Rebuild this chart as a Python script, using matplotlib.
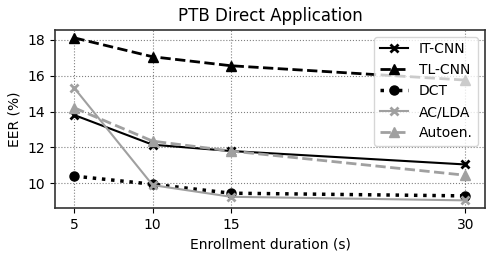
import matplotlib
matplotlib.use("Agg")
import matplotlib.pyplot as plt

durations = [5, 10, 15, 30]
it_cnn = [13.8, 12.15, 11.8, 11.05]
tl_cnn = [18.1, 17.05, 16.55, 15.75]
dct = [10.4, 9.95, 9.45, 9.3]
ac_lda = [15.3, 9.9, 9.25, 9.05]
autoen = [14.2, 12.35, 11.8, 10.45]

plt.rcParams["font.size"] = 10
fig, ax = plt.subplots(figsize=(4.99, 2.59), dpi=100)

gray = "#a0a0a0"
ax.plot(durations, it_cnn, color="black", ls="-", marker="x", lw=1.5, ms=5.5, mew=2, label="IT-CNN")
ax.plot(durations, tl_cnn, color="black", ls="--", marker="^", lw=2, ms=6.5, label="TL-CNN")
ax.plot(durations, dct, color="black", ls=":", marker="o", lw=2.5, ms=6.5, label="DCT")
ax.plot(durations, ac_lda, color=gray, ls="-", marker="x", lw=1.5, ms=5.5, mew=2, label="AC/LDA")
ax.plot(durations, autoen, color=gray, ls="--", marker="^", lw=2, ms=6.5, label="Autoen.")

ax.set_xticks(durations)
ax.set_yticks([10, 12, 14, 16, 18])
ax.set_xlabel("Enrollment duration (s)")
ax.set_ylabel("EER (%)")
ax.set_title("PTB Direct Application", fontsize=12)
ax.grid(True, ls=":", color="gray", lw=0.8)
for s in ax.spines.values():
    s.set_linewidth(1.2)
    s.set_color("#333333")
ax.legend(loc="upper right", handlelength=2)

fig.subplots_adjust(left=0.11, right=0.972, top=0.885, bottom=0.195)
fig.savefig("out.png")
plt.close("all")
